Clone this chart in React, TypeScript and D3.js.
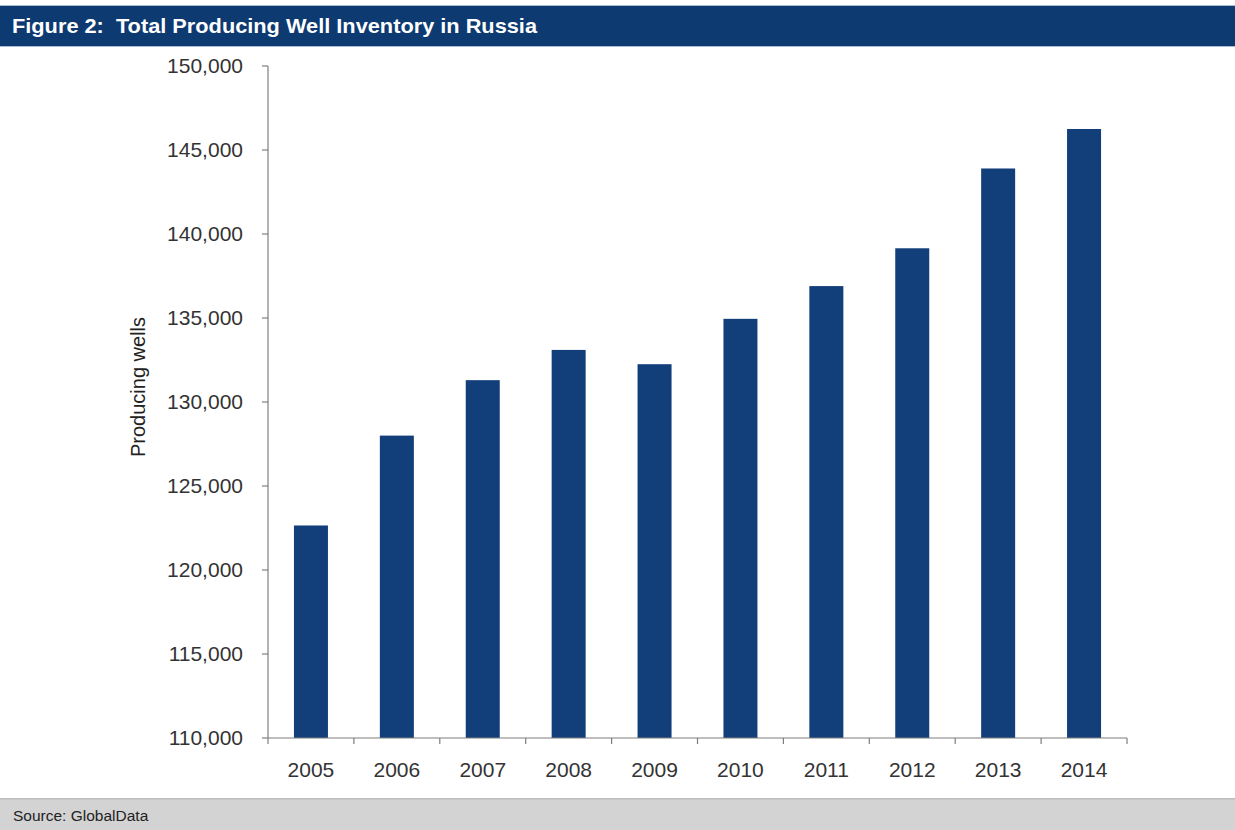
import React from "react";
import * as d3 from "d3";

const years = ["2005", "2006", "2007", "2008", "2009", "2010", "2011", "2012", "2013", "2014"];
const wells = [122650, 128000, 131300, 133100, 132250, 134950, 136900, 139150, 143900, 146250];
const yTicks = [110000, 115000, 120000, 125000, 130000, 135000, 140000, 145000, 150000];

const W = 1235;
const H = 830;
const plot = { left: 268, right: 1127, top: 66, bottom: 738 };
const font = "Arial, 'Liberation Sans', Helvetica, sans-serif";
const narrow = "'Liberation Sans Narrow', 'Arial Narrow', Arial, 'Liberation Sans', sans-serif";

export default function App() {
  const xEdges = d3.scaleLinear().domain([0, years.length]).range([plot.left, plot.right]);
  const y = d3.scaleLinear().domain([110000, 150000]).range([plot.bottom, plot.top]);
  const fmt = d3.format(",");
  const bw = 34;
  const cx = (i: number) => xEdges(i + 0.5);

  return (
    <svg width={W} height={H} style={{ position: "absolute", left: 0, top: 0, background: "#fff" }}>
      {/* header */}
      <rect x={0} y={6} width={W} height={40} fill="#0e3a72" />
      <rect x={0} y={5} width={W} height={1} fill="#a9bcd3" />
      <rect x={0} y={46} width={W} height={1} fill="#a9bcd3" />
      <text
        x={12}
        y={33}
        fill="#fff"
        fontFamily={narrow}
        fontWeight="bold"
        fontSize={21}
        textLength={525}
        lengthAdjust="spacingAndGlyphs"
        style={{ whiteSpace: "pre" }}
      >
        Figure 2:  Total Producing Well Inventory in Russia
      </text>

      {/* bars */}
      {years.map((yr, i) => (
        <rect key={yr} x={cx(i) - bw / 2} y={y(wells[i])} width={bw} height={plot.bottom - y(wells[i])} fill="#123f7a" />
      ))}

      {/* y axis */}
      <line x1={plot.left} x2={plot.left} y1={plot.top} y2={plot.bottom} stroke="#7f7f7f" strokeWidth={1.2} />
      {yTicks.map((t) => (
        <g key={t}>
          <line x1={plot.left - 6} x2={plot.left} y1={y(t)} y2={y(t)} stroke="#7f7f7f" strokeWidth={1.2} />
          <text x={243} y={y(t)} dy="0.35em" textAnchor="end" fontFamily={font} fontSize={21} fill="#333">
            {fmt(t)}
          </text>
        </g>
      ))}
      <text
        transform={`translate(145, 387) rotate(-90)`}
        textAnchor="middle"
        fontFamily={font}
        fontSize={20}
        fill="#222"
      >
        Producing wells
      </text>

      {/* x axis */}
      <line x1={plot.left} x2={plot.right} y1={plot.bottom} y2={plot.bottom} stroke="#7f7f7f" strokeWidth={1.2} />
      {d3.range(years.length + 1).map((i) => (
        <line key={i} x1={xEdges(i)} x2={xEdges(i)} y1={plot.bottom} y2={plot.bottom + 6} stroke="#7f7f7f" strokeWidth={1.2} />
      ))}
      {years.map((yr, i) => (
        <text key={yr} x={cx(i)} y={777} textAnchor="middle" fontFamily={font} fontSize={21} fill="#333">
          {yr}
        </text>
      ))}

      {/* footer */}
      <rect x={0} y={799} width={W} height={H - 799} fill="#d3d3d3" />
      <rect x={0} y={798} width={W} height={1.5} fill="#bdbdbd" />
      <text x={13} y={821} fontFamily={font} fontSize={15.5} fill="#222">
        Source: GlobalData
      </text>
    </svg>
  );
}
